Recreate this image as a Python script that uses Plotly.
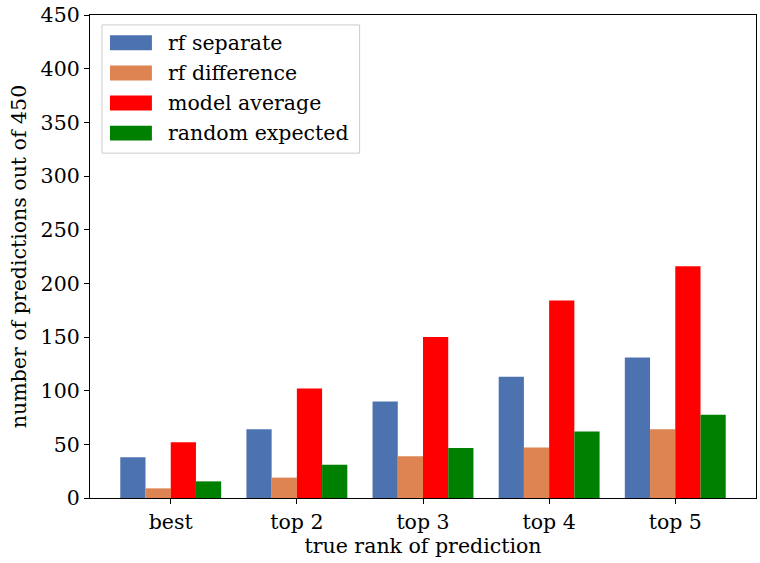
import plotly.graph_objects as go

# categories and series values
ranks = ["best", "top 2", "top 3", "top 4", "top 5"]
rf_separate = [38, 64, 90, 113, 131]
rf_difference = [9, 19, 39, 47, 64]
model_average = [52, 102, 150, 184, 216]
random_expected = [15.5, 31, 46.5, 62, 77.5]

series_names = ["rf separate", "rf difference", "model average", "random expected"]
series_values = [rf_separate, rf_difference, model_average, random_expected]
series_colors = ["#4c72b0", "#dd8452", "#ff0000", "#008000"]

FONT = "DejaVu Serif"
TXT = 20.5

fig = go.Figure()
for name, vals, col in zip(series_names, series_values, series_colors):
    fig.add_trace(go.Bar(
        x=list(range(len(ranks))), y=vals, name=name,
        marker=dict(color=col, line=dict(width=0)),
        showlegend=False,
    ))

# legend drawn by hand: framed box with wide colour patches
W, H = 760, 563
ml, mr, mt, mb = 90, 3, 12, 65
pw, ph = W - ml - mr, H - mt - mb

def px_x(px):
    return (px - ml) / pw

def px_y(py):
    return 1 - (py - mt) / ph

shapes = [dict(type="rect", xref="paper", yref="paper",
               x0=px_x(102), x1=px_x(360), y0=px_y(151), y1=px_y(22),
               line=dict(color="#cccccc", width=1), fillcolor="rgba(255,255,255,0.8)",
               layer="above")]
annotations = []
for i, (name, col) in enumerate(zip(series_names, series_colors)):
    cy = 40 + i * 30.3
    shapes.append(dict(type="rect", xref="paper", yref="paper",
                       x0=px_x(110), x1=px_x(152), y0=px_y(cy + 7.5), y1=px_y(cy - 7.5),
                       line=dict(width=0), fillcolor=col, layer="above"))
    annotations.append(dict(xref="paper", yref="paper", x=px_x(166), y=px_y(cy),
                            text=name, showarrow=False, xanchor="left", yanchor="middle",
                            font=dict(family=FONT, size=TXT, color="black")))

fig.update_layout(
    width=W, height=H,
    margin=dict(l=ml, r=mr, t=mt, b=mb),
    paper_bgcolor="white", plot_bgcolor="white",
    barmode="group", bargap=0.2, bargroupgap=0,
    font=dict(family=FONT, size=TXT, color="black"),
    shapes=shapes, annotations=annotations,
    xaxis=dict(
        range=[-0.64, 4.64], tickmode="array",
        tickvals=list(range(len(ranks))), ticktext=ranks,
        showline=True, linecolor="black", linewidth=1.3, mirror=True,
        ticks="outside", ticklen=5, tickwidth=1.3, tickcolor="black",
        showgrid=False, zeroline=False, tickfont=dict(size=TXT),
        title=dict(text="true rank of prediction", standoff=4,
                   font=dict(family=FONT, size=TXT)),
    ),
    yaxis=dict(
        range=[0, 450], tickmode="linear", tick0=0, dtick=50,
        showline=True, linecolor="black", linewidth=1.3, mirror=True,
        ticks="outside", ticklen=5, tickwidth=1.3, tickcolor="black",
        showgrid=False, zeroline=False, tickfont=dict(size=TXT),
        title=dict(text="number of predictions out of 450", standoff=8,
                   font=dict(family=FONT, size=TXT)),
    ),
)

fig.write_html("out.html")
